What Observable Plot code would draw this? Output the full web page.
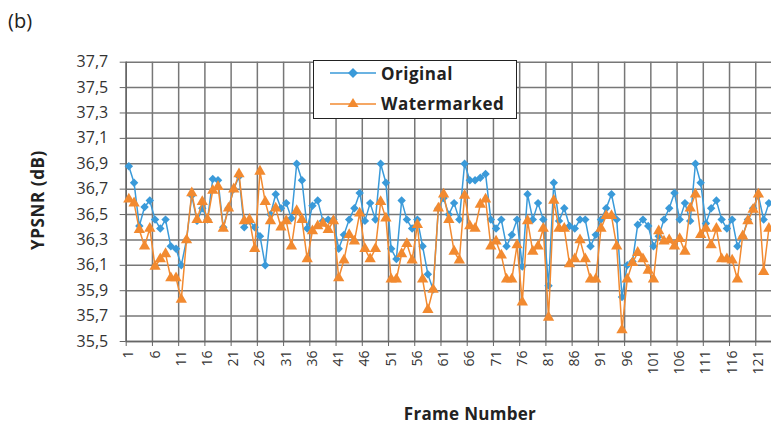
<!DOCTYPE html>
<html><head><meta charset="utf-8">
<script src="https://cdn.jsdelivr.net/npm/d3@7"></script>
<script src="https://cdn.jsdelivr.net/npm/@observablehq/plot@0.6"></script>
<style>
body{margin:0;background:#fff;}
#wrap{position:relative;width:771px;height:432px;overflow:hidden;font-family:"Open Sans",sans-serif;}
#tag{position:absolute;left:8px;top:7px;font-size:20px;color:#222;}
#ylab{position:absolute;left:37px;top:200px;transform:translate(-50%,-50%) rotate(-90deg);font-weight:bold;font-size:17px;letter-spacing:0.6px;color:#222;white-space:nowrap;}
#xlab{position:absolute;left:470px;top:413px;transform:translate(-50%,-50%);font-weight:bold;font-size:17px;letter-spacing:0.3px;color:#222;white-space:nowrap;}
#legend{position:absolute;left:313px;top:60px;width:202px;height:57px;border:1.5px solid #222;background:#fff;font-weight:bold;font-size:17px;letter-spacing:0.5px;color:#222;}
.row{position:absolute;left:14px;display:flex;align-items:center;}
.row span{margin-left:3px;}
</style></head><body>
<div id="wrap">
<div id="chart"></div>
<div id="tag">(b)</div>
<div id="ylab">YPSNR (dB)</div>
<div id="xlab">Frame Number</div>
<div id="legend">
 <div class="row" style="top:0px"><svg width="50" height="24"><line x1="2" y1="12" x2="48" y2="12" stroke="#3a9ad9" stroke-width="1.5"/><path d="M25,7 L30,12 L25,17 L20,12Z" fill="#3a9ad9"/></svg><span>Original</span></div>
 <div class="row" style="top:30px"><svg width="50" height="24"><line x1="2" y1="13" x2="48" y2="13" stroke="#f28a30" stroke-width="1.5"/><path d="M25,7 L30.5,16 L19.5,16Z" fill="#f28a30"/></svg><span>Watermarked</span></div>
</div>
</div>
<script>
const frames = d3.range(1, 124);
const original = [
36.88,36.75,36.41,36.56,36.61,36.46,36.39,36.46,36.25,36.23,
36.10,36.30,36.65,36.45,36.55,36.46,36.78,36.77,36.40,36.55,
36.70,36.80,36.40,36.45,36.40,36.33,36.10,36.50,36.66,36.55,
36.59,36.47,36.90,36.77,36.39,36.57,36.61,36.45,36.46,36.46,
36.23,36.34,36.46,36.55,36.67,36.45,36.59,36.46,36.90,36.75,
36.23,36.15,36.61,36.46,36.39,36.46,36.25,36.03,35.91,36.55,
36.63,36.50,36.59,36.46,36.90,36.77,36.77,36.79,36.82,36.46,
36.39,36.46,36.25,36.34,36.46,36.09,36.66,36.46,36.59,36.46,
35.94,36.75,36.45,36.55,36.41,36.39,36.46,36.46,36.25,36.34,
36.46,36.55,36.66,36.46,35.85,36.10,36.13,36.42,36.46,36.41,
36.25,36.33,36.46,36.55,36.67,36.46,36.59,36.45,36.90,36.75,
36.43,36.55,36.61,36.46,36.39,36.46,36.25,36.33,36.46,36.55,
36.65,36.46,36.59];
const watermarked = [
36.62,36.59,36.38,36.25,36.39,36.09,36.15,36.19,36.00,36.00,
35.83,36.30,36.67,36.46,36.60,36.46,36.69,36.72,36.39,36.55,
36.70,36.82,36.45,36.46,36.23,36.84,36.60,36.45,36.55,36.40,
36.45,36.25,36.53,36.46,36.15,36.37,36.41,36.43,36.38,36.45,
36.00,36.14,36.34,36.29,36.51,36.23,36.15,36.23,36.60,36.47,
35.99,35.99,36.19,36.27,36.14,36.42,35.99,35.75,35.91,36.55,
36.66,36.46,36.21,36.14,36.65,36.41,36.39,36.58,36.62,36.25,
36.29,36.18,35.99,35.99,36.26,35.81,36.45,36.21,36.25,36.39,
35.69,36.61,36.39,36.39,36.11,36.15,36.30,36.15,35.99,35.99,
36.39,36.49,36.49,36.25,35.59,35.99,36.12,36.20,36.15,36.06,
35.99,36.37,36.29,36.30,36.25,36.31,36.21,36.55,36.66,36.34,
36.39,36.26,36.39,36.15,36.15,36.14,35.99,36.33,36.45,36.54,
36.66,36.05,36.39];
const yTicks = d3.range(0, 12).map(i => +(35.5 + i * 0.2).toFixed(1));
const xTickFrames = d3.range(1, 124, 5);
const gridFrames = d3.range(0.5, 124, 5);

const blue = "#3a9ad9", orange = "#f28a30";
const data = frames.map((f, i) => ({frame: f, original: original[i], watermarked: watermarked[i]}));

const plot = Plot.plot({
  width: 771, height: 432,
  marginLeft: 125.7, marginRight: 0, marginTop: 61.7, marginBottom: 91,
  style: {fontFamily: "Open Sans, sans-serif", background: "transparent", overflow: "visible"},
  x: {domain: [0.5, 123.5]},
  y: {domain: [35.5, 37.7]},
  marks: [
    Plot.ruleY(yTicks, {stroke: "#777", strokeWidth: 1.5}),
    Plot.ruleX(gridFrames, {stroke: "#777", strokeWidth: 1.5}),
    Plot.ruleY([35.5], {stroke: "#666", strokeWidth: 1.5}),
    Plot.ruleX([0.5], {stroke: "#666", strokeWidth: 1.5}),
    Plot.axisY({ticks: yTicks, tickSize: 6, tickPadding: 12, tickFormat: d => d.toFixed(1).replace(".", ","), fontSize: 16, fill: "#333", stroke: "#666", label: null}),
    Plot.axisX({ticks: gridFrames, tickSize: 5, tickFormat: () => "", stroke: "#666", label: null}),
    Plot.axisX({ticks: xTickFrames, tickSize: 0, tickPadding: 9, tickRotate: -90, tickFormat: d => String(d), fontSize: 14, fill: "#333", label: null}),
    Plot.line(data, {x: "frame", y: "original", stroke: blue, strokeWidth: 1.5}),
    Plot.dot(data, {x: "frame", y: "original", symbol: "diamond2", r: 3.8, fill: blue, stroke: "none"}),
    Plot.line(data, {x: "frame", y: "watermarked", stroke: orange, strokeWidth: 1.5}),
    Plot.dot(data, {x: "frame", y: "watermarked", symbol: "triangle", r: 4.2, fill: orange, stroke: "none"})
  ]
});
document.getElementById("chart").appendChild(plot);
</script>
</body></html>
